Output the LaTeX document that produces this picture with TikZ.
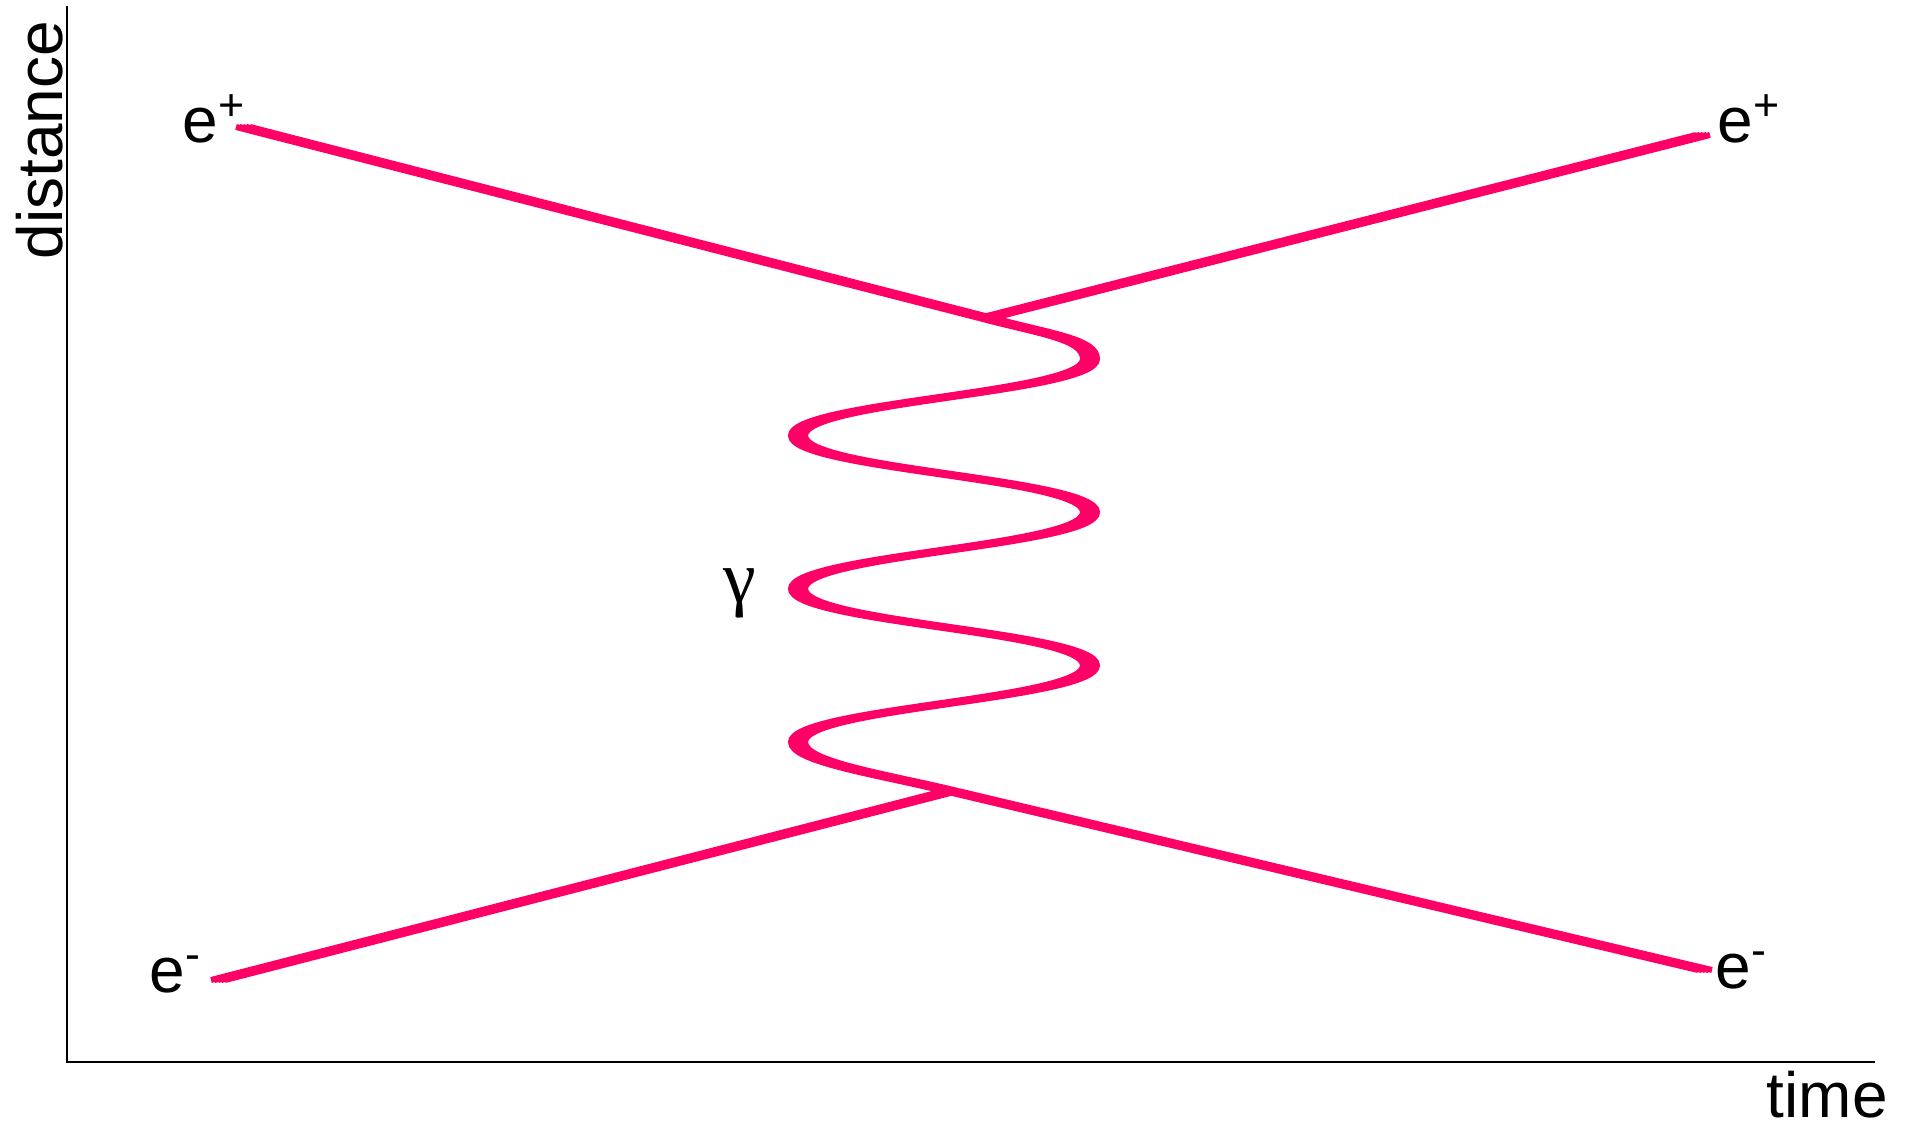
\documentclass[tikz,border=0pt]{standalone}
\usepackage{fontspec}
\setmainfont{Liberation Sans}
\newfontfamily\greekserif{Liberation Serif}
\usepackage{tikz}
\usetikzlibrary{positioning}
\definecolor{pRose}{HTML}{FF0066}
\definecolor{aInk}{HTML}{000000}
\tikzset{
  worldline/.style={draw=pRose, line width=0.06cm},
  axisline/.style={draw=aInk, line width=0.6pt},
  plbl/.style={inner sep=0pt, anchor=base west, text=aInk,
    font=\fontsize{18.2}{22}\selectfont},
}

\begin{document}
\begin{tikzpicture}
  \useasboundingbox (-0.67,-0.63) rectangle (18.45,10.62);
  % axes
  \coordinate (o) at (0,0);
  \coordinate (ytop) at (0,10.56);
  \coordinate (xend) at (18.08,0);
  \draw[axisline] (ytop) -- (o) -- (xend);
  \node[plbl, rotate=90] (dist) at (-0.05,8.02) {distance};
  \node[plbl] (tm) at (16.99,-0.55) {time};
  % vertices and free ends
  \coordinate (vtop) at (9.19,7.44);
  \coordinate (vbot) at (8.84,2.71);
  \coordinate (pin) at (1.76,9.35);
  \coordinate (pout) at (16.36,9.27);
  \coordinate (ein) at (1.51,0.82);
  \coordinate (eout) at (16.38,0.92);
  % world lines, drawn a few times side by side for the broad nib
  \foreach \dx in {-0.07,-0.035,0,0.035,0.07}{
    \draw[worldline] ([xshift=\dx cm]pin) -- ([xshift=\dx cm]vtop);
    \draw[worldline] ([xshift=\dx cm]vtop) -- ([xshift=\dx cm]pout);
    \draw[worldline] ([xshift=\dx cm]ein) -- ([xshift=\dx cm]vbot);
    \draw[worldline] ([xshift=\dx cm]vbot) -- ([xshift=\dx cm]eout);
    % photon
    \draw[worldline] ([xshift=\dx cm]vtop)
      .. controls +(0.6,-0.16) and +(0,0.2) .. ++(1.04,-0.41)
      .. controls +(0,-0.34) and +(0,0.34) .. ++(-2.92,-0.766)
      .. controls +(0,-0.34) and +(0,0.34) .. ++(2.92,-0.766)
      .. controls +(0,-0.34) and +(0,0.34) .. ++(-2.92,-0.766)
      .. controls +(0,-0.34) and +(0,0.34) .. ++(2.92,-0.766)
      .. controls +(0,-0.34) and +(0,0.34) .. ++(-2.92,-0.766)
      .. controls +(0,-0.2) and +(-0.7,0.17) .. ([xshift=\dx cm]vbot);
  }
  % labels
  \node[plbl] (lpin) at (1.15,9.19) {e\textsuperscript{+}};
  \node[plbl] (lpout) at (16.50,9.19) {e\textsuperscript{+}};
  \node[plbl] (lein) at (0.82,0.70) {e\textsuperscript{-}};
  \node[plbl] (leout) at (16.48,0.74) {e\textsuperscript{-}};
  \node[inner sep=0pt, anchor=base, font=\greekserif\fontsize{21}{25}\selectfont] (lgam) at (6.73,4.60) {γ};
\end{tikzpicture}
\end{document}
